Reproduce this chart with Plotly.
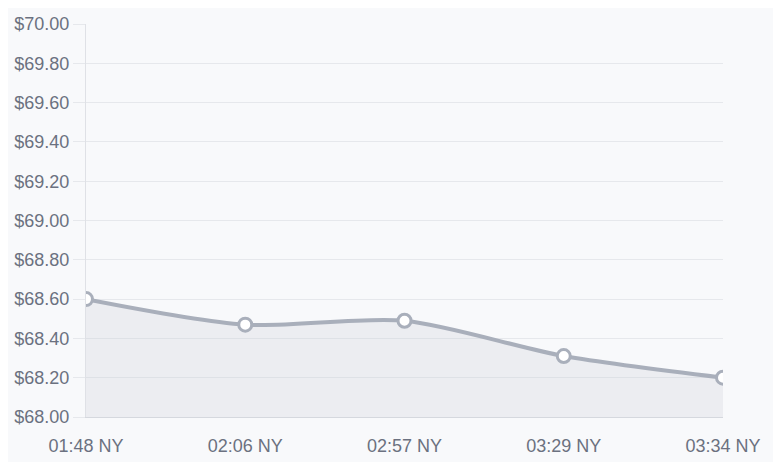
import plotly.graph_objects as go

categories = ["01:48 NY", "02:06 NY", "02:57 NY", "03:29 NY", "03:34 NY"]
prices = [68.60, 68.47, 68.49, 68.31, 68.20]
y_ticks = [68.0 + 0.2 * i for i in range(11)]
y_tick_labels = [f"${v:.2f}" for v in y_ticks]

BG = "#f8f9fb"
LINE = "#a9afbb"
GRID = "#e6e8ec"
TEXT = "#6b7180"

fig = go.Figure()
fig.add_trace(go.Scatter(
    x=categories, y=prices,
    mode="lines+markers",
    line=dict(color=LINE, width=4, shape="spline", smoothing=0.8),
    marker=dict(size=13, color="white", line=dict(color=LINE, width=3)),
    fill="tozeroy", fillcolor="rgba(200,204,212,0.25)",
    hoverinfo="skip",
))

fig.update_layout(
    width=781, height=462,
    margin=dict(l=78, r=66, t=16, b=53),
    paper_bgcolor=BG, plot_bgcolor=BG,
    showlegend=False,
    font=dict(family="Liberation Sans, Arial, sans-serif", size=18, color=TEXT),
    xaxis=dict(
        type="category", range=[0, 4], automargin=False,
        showgrid=False, showline=True, linecolor="#d5d8de", linewidth=1,
        ticks="outside", ticklen=12, tickcolor="rgba(0,0,0,0)",
        tickfont=dict(size=18, color=TEXT),
        fixedrange=True,
    ),
    yaxis=dict(
        range=[68.0, 70.0], automargin=False,
        tickvals=y_ticks, ticktext=y_tick_labels,
        showgrid=True, gridcolor=GRID, gridwidth=1,
        showline=True, linecolor="#dfe1e6", linewidth=1,
        ticks="outside", ticklen=12, tickcolor=GRID,
        ticklabelstandoff=0,
        tickfont=dict(size=18, color=TEXT),
        zeroline=False, fixedrange=True,
    ),
)

fig.write_html("out.html")
